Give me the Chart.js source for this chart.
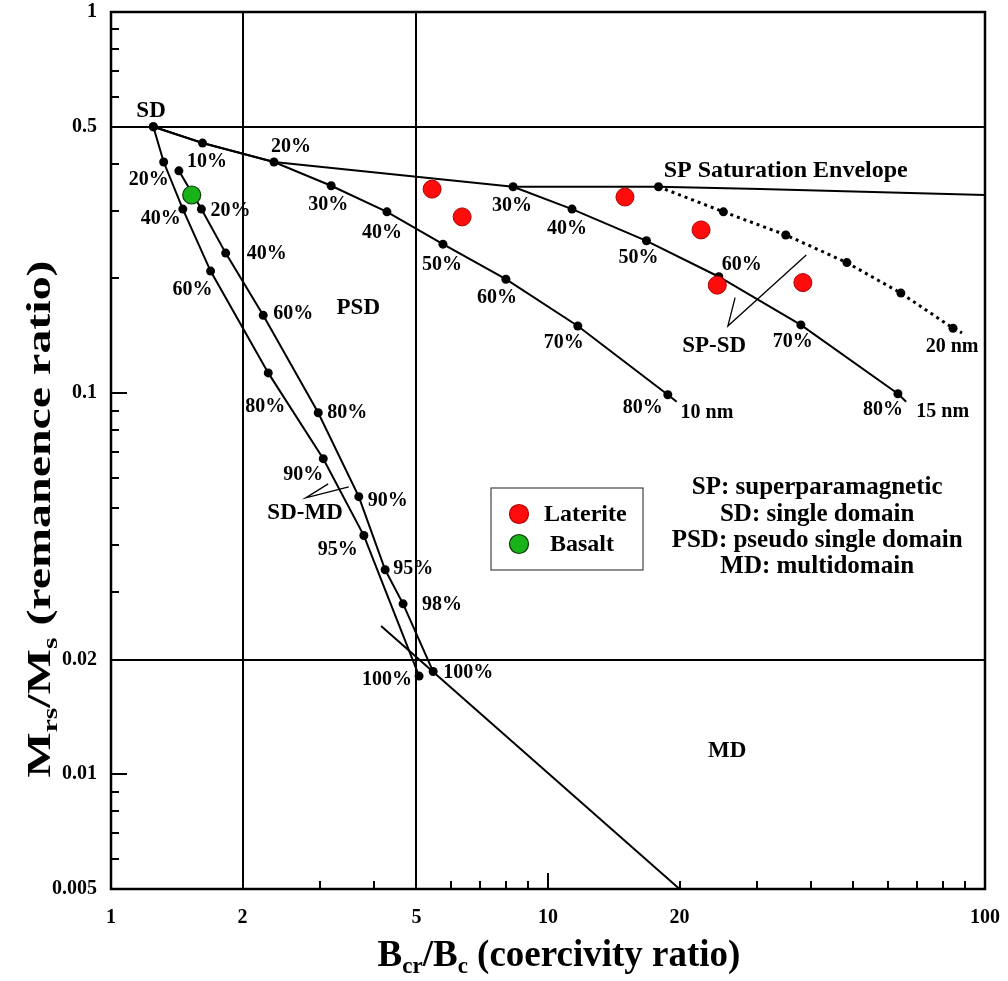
<!DOCTYPE html>
<html lang="en">
<head>
<meta charset="UTF-8">
<title>Day plot</title>
<style>
  body { margin: 0; background: #fff; }
  #wrap { width: 1008px; height: 981px; }
</style>
</head>
<body>
<div id="wrap"><canvas id="dayPlot" width="1008" height="981"></canvas></div>
<script src="https://cdn.jsdelivr.net/npm/chart.js"></script>
<script>
// values: x = Bcr/Bc, y = Mrs/Ms
const lateriteX = [5.43, 6.36, 15.0, 22.4, 24.4, 38.3];
const lateriteY = [0.343, 0.290, 0.327, 0.268, 0.192, 0.195];
const basaltX = [1.53];
const basaltY = [0.331];

const envelopeX = [1.25, 1.62, 2.36, 8.32, 17.9, 30.6, 100];
const envelopeY = [0.5, 0.453, 0.404, 0.348, 0.348, 0.343, 0.331];

// SP-SD mixing curves (last entry = end of the drawn line, no marker)
const nm10X = [1.25, 1.62, 2.36, 3.19, 4.28, 5.75, 8.01, 11.7, 18.8, 19.7];
const nm10Y = [0.5, 0.453, 0.404, 0.350, 0.299, 0.246, 0.199, 0.150, 0.099, 0.0949];
const nm10Labels = ['', '', '20%', '30%', '40%', '50%', '60%', '70%', '80%', ''];

const nm15X = [8.32, 11.35, 16.8, 24.6, 37.9, 63.2, 66.0];
const nm15Y = [0.348, 0.304, 0.251, 0.202, 0.151, 0.0996, 0.0949];
const nm15Labels = ['30%', '40%', '50%', '60%', '70%', '80%', ''];

const nm20X = [17.9, 25.2, 35.0, 48.3, 64.2, 84.5, 88.6];
const nm20Y = [0.348, 0.299, 0.260, 0.220, 0.183, 0.148, 0.1439];

// SD-MD mixing curves
const sdmd1X = [1.25, 1.32, 1.46, 1.69, 2.29, 3.06, 3.79, 5.07];
const sdmd1Y = [0.5, 0.404, 0.304, 0.209, 0.113, 0.0673, 0.0423, 0.0181];
const sdmd1Labels = ['', '20%', '40%', '60%', '80%', '90%', '95%', '100%'];

const sdmd2X = [1.43, 1.61, 1.83, 2.23, 2.98, 3.69, 4.24, 4.66, 5.46];
const sdmd2Y = [0.383, 0.304, 0.233, 0.160, 0.0888, 0.0535, 0.0344, 0.0280, 0.0186];
const sdmd2Labels = ['10%', '20%', '40%', '60%', '80%', '90%', '95%', '98%', '100%'];

const mdLineX = [4.15, 20];
const mdLineY = [0.0245, 0.005];

// little pointer lines under the SP-SD and SD-MD labels
const spsdPointerX = [26.8, 25.8, 39.0];
const spsdPointerY = [0.178, 0.150, 0.2305];
const sdmdPointerX = [3.14, 2.79, 3.50];
const sdmdPointerY = [0.0578, 0.0531, 0.0568];

// axes
const xTickValues = [1, 2, 5, 10, 20, 100];
const yTickValues = [1, 0.5, 0.1, 0.02, 0.01, 0.005];
const xMinorTicks = [3, 4, 6, 7, 8, 9, 20, 30, 40, 50, 60, 70, 80, 90];
const xMajorTicks = [10];
const yMinorTicks = [0.9, 0.8, 0.7, 0.6, 0.4, 0.3, 0.2, 0.09, 0.08, 0.07, 0.06, 0.05, 0.04, 0.03, 0.009, 0.008, 0.007, 0.006];
const yMajorTicks = [0.1, 0.01];
const refLinesX = [2, 5];
const refLinesY = [0.5, 0.02];

// label placement (pixel offsets from each point)
const nm10Offsets = [null, null, [17, -15], [-3, 19], [-5, 21], [-1, 21], [-9, 19], [-14, 17], [-25, 13], null];
const nm15Offsets = [[-1, 19], [-5, 20], [-8, 17], [23, -12], [-8, 17], [-15, 16], null];
const sdmd1Offsets = [null, [-15, 18], [-22, 10], [-18, 19], [-3, 34], [-20, 16], [-26, 14], [-32, 4]];
const sdmd2Offsets = [[28, -9], [29, 2], [41, 1], [30, -2], [29, 0], [29, 4], [28, -1], [39, 1], [35, 1]];

const SERIF = '"Liberation Serif", "Times New Roman", serif';

// free text, anchored in data coordinates
const notes = [
  { text: 'SD', x: 1.235, y: 0.55, size: 23 },
  { text: 'PSD', x: 3.68, y: 0.167, size: 23 },
  { text: 'MD', x: 25.7, y: 0.0115, size: 23 },
  { text: 'SP Saturation Envelope', x: 35.0, y: 0.383, size: 24 },
  { text: 'SP-SD', x: 24.0, y: 0.133, size: 23 },
  { text: 'SD-MD', x: 2.78, y: 0.0486, size: 23 },
  { text: '10 nm', x: 23.1, y: 0.0888, size: 20 },
  { text: '15 nm', x: 80.0, y: 0.0893, size: 20 },
  { text: '20 nm', x: 84.1, y: 0.1322, size: 20 },
  { text: 'SP: superparamagnetic', x: 41.3, y: 0.0564, size: 25 },
  { text: 'SD: single domain', x: 41.3, y: 0.0480, size: 25 },
  { text: 'PSD: pseudo single domain', x: 41.3, y: 0.0410, size: 25 },
  { text: 'MD: multidomain', x: 41.3, y: 0.0350, size: 25 }
];

function toXY(xs, ys) {
  return xs.map((v, i) => ({ x: v, y: ys[i] }));
}

function curve(xs, ys, extra) {
  return Object.assign({
    data: toXY(xs, ys),
    showLine: true,
    borderColor: '#000',
    backgroundColor: '#000',
    borderWidth: 2,
    pointRadius: 4.5,
    pointBorderWidth: 0,
    tension: 0
  }, extra || {});
}

// marker on every point except the trailing line end
const noLastMarker = c => (c.dataIndex === c.dataset.data.length - 1 ? 0 : 4.5);

const datasets = [
  {
    label: 'Laterite',
    data: toXY(lateriteX, lateriteY),
    pointRadius: 9,
    pointBackgroundColor: '#ff0d0d',
    pointBorderColor: '#b00000',
    pointBorderWidth: 1,
    showLine: false
  },
  {
    label: 'Basalt',
    data: toXY(basaltX, basaltY),
    pointRadius: 9,
    pointBackgroundColor: '#19b219',
    pointBorderColor: '#0a3a0a',
    pointBorderWidth: 1.2,
    showLine: false
  },
  curve(sdmd1X, sdmd1Y, { label: 'SD-MD 1', pctLabels: sdmd1Labels, pctOffsets: sdmd1Offsets }),
  curve(sdmd2X, sdmd2Y, { label: 'SD-MD 2', pctLabels: sdmd2Labels, pctOffsets: sdmd2Offsets }),
  curve(nm10X, nm10Y, { label: '10 nm', pointRadius: noLastMarker, pctLabels: nm10Labels, pctOffsets: nm10Offsets }),
  curve(nm15X, nm15Y, { label: '15 nm', pointRadius: noLastMarker, pctLabels: nm15Labels, pctOffsets: nm15Offsets }),
  curve(nm20X, nm20Y, { label: '20 nm', pointRadius: noLastMarker, borderDash: [3, 4], borderWidth: 3 }),
  curve(envelopeX, envelopeY, { label: 'envelope', pointRadius: 0 }),
  curve(mdLineX, mdLineY, { label: 'MD line', pointRadius: 0 }),
  curve(spsdPointerX, spsdPointerY, { label: 'ptr1', pointRadius: 0, borderWidth: 1.3 }),
  curve(sdmdPointerX, sdmdPointerY, { label: 'ptr2', pointRadius: 0, borderWidth: 1.3 })
];

function drawRich(ctx, parts, cx, baseY, size) {
  const sub = Math.round(size * 0.62);
  let w = 0;
  parts.forEach(p => {
    ctx.font = 'bold ' + (p[1] ? sub : size) + 'px ' + SERIF;
    w += ctx.measureText(p[0]).width;
  });
  let x = cx - w / 2;
  ctx.textAlign = 'left';
  ctx.textBaseline = 'alphabetic';
  parts.forEach(p => {
    ctx.font = 'bold ' + (p[1] ? sub : size) + 'px ' + SERIF;
    ctx.fillText(p[0], x, baseY + (p[1] ? size * 0.2 : 0));
    x += ctx.measureText(p[0]).width;
  });
}

const dayPlotDecor = {
  id: 'dayPlotDecor',
  beforeDatasetsDraw(chart) {
    const { ctx, chartArea: a, scales: { x, y } } = chart;
    ctx.save();
    ctx.strokeStyle = '#000';
    ctx.lineWidth = 2;
    ctx.beginPath();
    refLinesX.forEach(v => {
      const px = Math.round(x.getPixelForValue(v));
      ctx.moveTo(px, a.top); ctx.lineTo(px, a.bottom);
    });
    refLinesY.forEach(v => {
      const py = Math.round(y.getPixelForValue(v));
      ctx.moveTo(a.left, py); ctx.lineTo(a.right, py);
    });
    ctx.stroke();

    // inward ticks
    ctx.lineWidth = 2;
    ctx.beginPath();
    xMinorTicks.forEach(v => {
      const px = Math.round(x.getPixelForValue(v));
      ctx.moveTo(px, a.bottom); ctx.lineTo(px, a.bottom - 8);
    });
    xMajorTicks.forEach(v => {
      const px = Math.round(x.getPixelForValue(v));
      ctx.moveTo(px, a.bottom); ctx.lineTo(px, a.bottom - 16);
    });
    yMinorTicks.forEach(v => {
      const py = Math.round(y.getPixelForValue(v));
      ctx.moveTo(a.left, py); ctx.lineTo(a.left + 8, py);
    });
    yMajorTicks.forEach(v => {
      const py = Math.round(y.getPixelForValue(v));
      ctx.moveTo(a.left, py); ctx.lineTo(a.left + 16, py);
    });
    ctx.stroke();

    ctx.lineWidth = 2.5;
    ctx.strokeRect(a.left, a.top, a.width, a.height);
    ctx.restore();
  },
  afterDatasetsDraw(chart) {
    const { ctx, chartArea: a, scales: { x, y } } = chart;
    ctx.save();
    ctx.fillStyle = '#000';
    ctx.textAlign = 'center';
    ctx.textBaseline = 'middle';

    // percentage labels next to the mixing-curve points
    chart.data.datasets.forEach((ds, i) => {
      if (!ds.pctLabels) return;
      const meta = chart.getDatasetMeta(i);
      ctx.font = 'bold 20px ' + SERIF;
      ds.pctLabels.forEach((t, j) => {
        const off = ds.pctOffsets[j];
        if (!t || !off) return;
        const el = meta.data[j];
        ctx.fillText(t, el.x + off[0], el.y + off[1]);
      });
    });

    notes.forEach(n => {
      ctx.font = 'bold ' + n.size + 'px ' + SERIF;
      ctx.fillText(n.text, x.getPixelForValue(n.x), y.getPixelForValue(n.y));
    });

    // legend box
    const lx = a.left + 380, ly = a.top + 476;
    ctx.lineWidth = 1.2;
    ctx.strokeStyle = '#444';
    ctx.strokeRect(lx, ly, 152, 82);
    [0, 1].forEach(k => {
      const ds = chart.data.datasets[k];
      const cy = ly + 26 + k * 30;
      ctx.beginPath();
      ctx.arc(lx + 28, cy, 9.5, 0, Math.PI * 2);
      ctx.fillStyle = ds.pointBackgroundColor;
      ctx.fill();
      ctx.strokeStyle = ds.pointBorderColor;
      ctx.lineWidth = 1.2;
      ctx.stroke();
      ctx.fillStyle = '#000';
      ctx.textAlign = 'left';
      ctx.font = 'bold 24px ' + SERIF;
      ctx.fillText(ds.label, lx + (k === 0 ? 53 : 59), cy + 1);
    });

    // axis titles with subscripts
    ctx.fillStyle = '#000';
    drawRich(ctx, [['B', 0], ['cr', 1], ['/B', 0], ['c', 1], [' (coercivity ratio)', 0]],
      559, 966, 37);
    ctx.translate(38, 519);
    ctx.rotate(-Math.PI / 2);
    ctx.scale(1.41, 1);
    drawRich(ctx, [['M', 0], ['rs', 1], ['/M', 0], ['s', 1], [' (remanence ratio)', 0]],
      0, 12, 34);
    ctx.restore();
  }
};

new Chart(document.getElementById('dayPlot'), {
  type: 'scatter',
  data: { datasets: datasets },
  options: {
    responsive: false,
    animation: false,
    devicePixelRatio: 1,
    layout: { padding: { top: 12, right: 23, left: 0, bottom: 0 } },
    plugins: { legend: { display: false }, tooltip: { enabled: false } },
    scales: {
      x: {
        type: 'logarithmic',
        min: 1,
        max: 100,
        grid: { display: false, drawTicks: false },
        border: { display: false },
        afterBuildTicks: s => { s.ticks = xTickValues.map(v => ({ value: v })); },
        afterFit: s => { s.height = 92; s.paddingLeft = 0; s.paddingRight = 0; },
        ticks: {
          color: '#000',
          padding: 17,
          autoSkip: false,
          maxRotation: 0,
          font: { family: SERIF, size: 20, weight: 'bold' },
          callback: v => String(v)
        }
      },
      y: {
        type: 'logarithmic',
        min: 0.005,
        max: 1,
        grid: { display: false, drawTicks: false },
        border: { display: false },
        afterBuildTicks: s => { s.ticks = yTickValues.map(v => ({ value: v })); },
        afterFit: s => { s.width = 111; s.paddingTop = 0; s.paddingBottom = 0; },
        ticks: {
          color: '#000',
          padding: 14,
          autoSkip: false,
          font: { family: SERIF, size: 20, weight: 'bold' },
          callback: v => String(v)
        }
      }
    }
  },
  plugins: [dayPlotDecor]
});
</script>
</body>
</html>
